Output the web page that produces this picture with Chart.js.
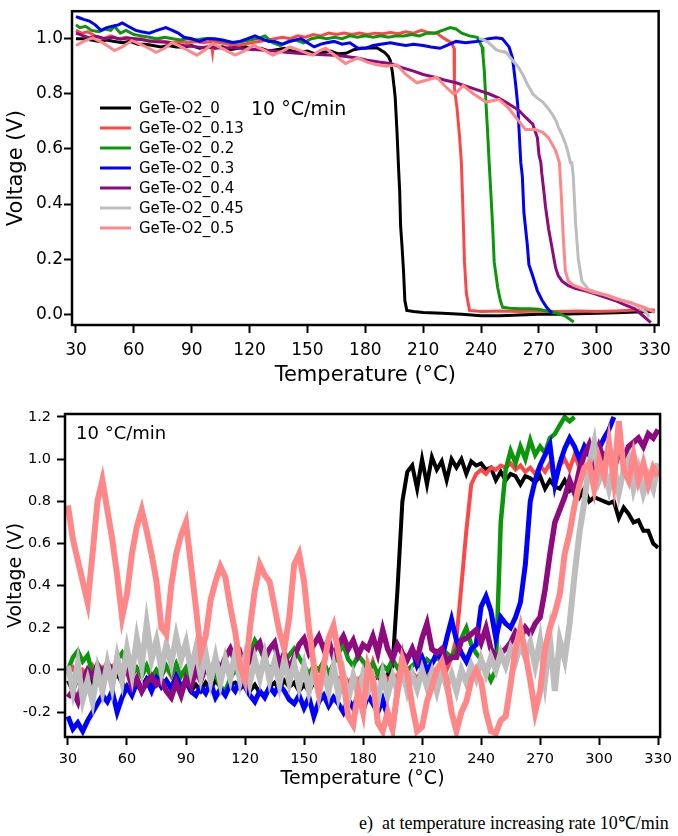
<!DOCTYPE html>
<html><head><meta charset="utf-8">
<script src="https://cdn.jsdelivr.net/npm/chart.js@4/dist/chart.umd.min.js"></script>
<style>
html,body{margin:0;padding:0;background:#fff;}
body{width:678px;height:836px;position:relative;overflow:hidden;font-family:"DejaVu Sans",sans-serif;}
canvas{position:absolute;left:0;}
#c1{top:0;}
#c2{top:390px;}
.lbl{position:absolute;white-space:pre;color:#000;font-family:"DejaVu Sans",sans-serif;z-index:5;}
#cap{position:absolute;left:359px;top:810px;font-family:"Liberation Serif","Times New Roman",serif;font-size:18px;white-space:pre;color:#000;}
</style></head>
<body>
<canvas id="c1" width="678" height="390"></canvas>
<canvas id="c2" width="678" height="410"></canvas>
<div class="lbl" style="left:251px;top:96px;font-size:19px;line-height:24px;">10 °C/min</div>
<div class="lbl" style="left:76px;top:422px;font-size:18px;line-height:22px;">10 °C/min</div>
<div id="cap">e)  at temperature increasing rate 10℃/min</div>
<script>
// ---------- series names & colours ----------
const seriesNames = ["GeTe-O2_0","GeTe-O2_0.13","GeTe-O2_0.2","GeTe-O2_0.3","GeTe-O2_0.4","GeTe-O2_0.45","GeTe-O2_0.5"];
const seriesColors = ["#000000","#ff4646","#0a980a","#0000ff","#8e0a7e","#bdbdbd","#ff8787"];

// ---------- tick labels ----------
const xTicks = [30,60,90,120,150,180,210,240,270,300,330];
const yTicksTop = [0.0,0.2,0.4,0.6,0.8,1.0];
const yTicksBottom = [-0.2,0.0,0.2,0.4,0.6,0.8,1.0,1.2];

// ---------- top panel: [temperature (°C), voltage (V)] ----------
const top_0 = [[30,1.0],[34,1.0],[38,0.995],[42,0.99],[46,0.995],[50,0.99],[54,0.985],[58,0.99],[62,0.98],[66,0.98],[70,0.975],[74,0.97],[78,0.975],[82,0.97],[86,0.97],[90,0.975],[94,0.965],[98,0.97],[102,0.965],[106,0.97],[110,0.96],[114,0.965],[118,0.97],[122,0.96],[126,0.965],[130,0.955],[134,0.96],[138,0.965],[142,0.955],[146,0.95],[150,0.955],[154,0.945],[158,0.95],[162,0.955],[166,0.945],[170,0.947],[174,0.96],[178,0.965],[182,0.966],[186,0.967],[190,0.95],[192,0.935],[193,0.92],[194,0.88],[195,0.82],[195.5,0.785],[196.4,0.665],[197.3,0.52],[197.8,0.45],[198.3,0.32],[199,0.25],[199.8,0.157],[200.5,0.05],[201.5,0.014],[205,0.01],[210,0.006],[220,0.004],[230,0.0],[240,-0.005],[250,-0.005],[260,-0.003],[270,0.0],[280,0.0],[290,0.002],[300,0.004],[310,0.005],[320,0.008],[330,0.01]];
const top_013 = [[30,1.03],[33,1.02],[36,1.025],[40,1.01],[44,1.0],[48,1.01],[52,1.0],[56,1.005],[60,0.995],[64,1.0],[68,0.99],[72,0.995],[76,0.99],[80,0.985],[84,0.99],[88,0.985],[92,0.99],[96,0.985],[100,0.99],[100.8,0.95],[101.5,0.99],[105,0.985],[109,0.98],[113,0.975],[117,0.98],[121,0.985],[125,0.99],[129,0.995],[133,1.0],[137,1.005],[141,1.0],[145,1.01],[149,1.005],[153,1.015],[157,1.01],[161,1.02],[165,1.015],[169,1.02],[173,1.015],[177,1.02],[181,1.015],[185,1.02],[189,1.018],[193,1.022],[197,1.018],[201,1.025],[205,1.02],[209,1.03],[213,1.022],[217,1.02],[221,1.0],[224.7,0.985],[226,0.965],[226.2,0.82],[227.5,0.75],[228.8,0.65],[229.8,0.55],[230.6,0.38],[231.4,0.19],[232.4,0.075],[234,0.014],[240,0.01],[250,0.012],[260,0.01],[270,0.012],[280,0.01],[290,0.012],[300,0.01],[310,0.012],[320,0.015],[330,0.015]];
const top_02 = [[30,1.05],[32,1.04],[35,1.045],[38,1.03],[42,1.025],[45,1.035],[48,1.03],[50,1.045],[53,1.02],[56,1.03],[60,1.015],[64,1.01],[68,1.005],[72,1.0],[76,1.005],[80,1.0],[84,0.995],[88,1.0],[92,0.995],[96,1.0],[100,1.0],[104,0.995],[108,0.99],[112,0.985],[116,0.99],[120,0.995],[124,1.0],[128,1.01],[132,0.985],[136,0.975],[140,0.99],[144,0.995],[148,0.985],[152,1.0],[156,1.005],[160,1.0],[164,1.005],[168,1.0],[172,1.01],[176,1.005],[180,1.01],[184,1.005],[188,1.01],[192,1.005],[196,1.01],[200,1.01],[204,1.015],[208,1.01],[212,1.02],[216,1.02],[220,1.03],[224,1.04],[227,1.035],[230,1.02],[234,1.01],[238,1.005],[240.5,0.97],[241,0.94],[241.7,0.88],[242.6,0.76],[243.4,0.66],[244.2,0.55],[245,0.45],[246,0.32],[246.8,0.19],[247.8,0.14],[248.6,0.097],[250,0.05],[251.2,0.025],[255,0.022],[260,0.02],[265,0.02],[270,0.018],[275,0.01],[280,0.003],[284,-0.008],[288,-0.028]];
const top_03 = [[30,1.08],[32,1.075],[34,1.07],[37,1.064],[40,1.05],[43,1.03],[46,1.04],[49,1.045],[52,1.05],[54,1.057],[57,1.045],[61,1.03],[64,1.025],[68,1.02],[72,1.03],[76.6,1.04],[80,1.03],[83,1.02],[86,1.005],[90,1.0],[94,0.99],[98,1.0],[102,1.0],[106,0.995],[111,0.986],[115,0.99],[119,1.0],[122.8,1.01],[126,1.0],[130,0.99],[133,0.99],[137,0.98],[141,0.99],[146.7,1.0],[150,0.985],[153.5,0.97],[157,0.98],[160,0.985],[163.8,0.99],[168,0.98],[172,0.985],[176,0.966],[180,0.965],[184,0.975],[188,0.98],[193,0.985],[197,0.98],[201,0.975],[205,0.98],[210,0.975],[214,0.97],[218.7,0.965],[222,0.975],[227,0.99],[232,0.985],[237.5,0.99],[241,0.995],[244,1.0],[247.8,1.003],[251,1.0],[254.5,0.97],[256.3,0.93],[257,0.89],[258,0.83],[259,0.76],[259.8,0.655],[260.6,0.55],[261.4,0.5],[262.2,0.37],[264,0.25],[264.8,0.18],[266.5,0.145],[269.2,0.085],[271.7,0.05],[274,0.025],[276.8,0.004]];
const top_04 = [[30,1.02],[34,1.01],[37,1.003],[41,1.008],[45,1.0],[49,1.005],[53,0.998],[57,1.002],[61,1.0],[65,0.995],[70,0.99],[74,0.988],[78,0.986],[82,0.98],[86,0.975],[90,0.972],[95.5,0.968],[100,0.97],[105,0.966],[112.6,0.968],[118,0.962],[124,0.96],[129.7,0.957],[135,0.953],[140,0.95],[146.8,0.946],[152,0.944],[158,0.942],[164,0.94],[170,0.935],[175.8,0.93],[181,0.922],[187,0.915],[193,0.91],[199,0.895],[205,0.882],[210,0.87],[216,0.86],[221,0.85],[227,0.84],[233,0.826],[238,0.814],[244,0.8],[249,0.785],[254,0.765],[259.6,0.74],[263,0.715],[266.8,0.69],[269.2,0.64],[270,0.58],[271,0.55],[271.5,0.51],[272.5,0.45],[273.4,0.39],[275,0.31],[276.8,0.24],[278.6,0.17],[280,0.14],[282,0.12],[285,0.105],[289,0.093],[294,0.085],[299,0.074],[304,0.062],[309.4,0.05],[314,0.036],[319.7,0.02],[323,0.0],[326.4,-0.02],[328,-0.03]];
const top_045 = [[239,1.0],[241,0.997],[244,0.985],[247.8,0.96],[250,0.955],[253,0.95],[256.5,0.92],[259,0.9],[261.6,0.87],[264,0.835],[266.8,0.8],[269,0.785],[272,0.77],[275,0.745],[277,0.725],[279,0.7],[280,0.68],[282,0.65],[283.7,0.62],[285,0.59],[286.3,0.55],[287,0.55],[287.8,0.5],[289,0.33],[290.4,0.2],[292.3,0.12],[295.7,0.09],[300,0.08],[304,0.07],[310,0.055],[318,0.043],[322,0.025],[326,0.004],[327,-0.01]];
const top_05 = [[30,0.975],[34,0.99],[38.7,1.003],[44,0.985],[50,0.957],[54,0.97],[59,0.993],[65,0.975],[71.6,0.95],[76,0.965],[80,0.986],[86,0.965],[92.7,0.94],[97,0.96],[101,0.982],[107,0.96],[112.6,0.94],[117,0.955],[122,0.975],[127,0.96],[132,0.94],[137,0.955],[141,0.97],[147,0.955],[152.8,0.94],[156,0.955],[159.4,0.965],[165,0.935],[169.7,0.91],[173,0.92],[176,0.93],[181,0.915],[186,0.905],[191,0.9],[196.4,0.905],[201,0.87],[206.7,0.84],[212,0.85],[217,0.86],[221,0.83],[225.7,0.8],[228,0.81],[230.8,0.83],[236,0.8],[242.6,0.77],[246,0.775],[249.3,0.78],[254,0.75],[258,0.715],[263,0.67],[268,0.67],[272,0.66],[275,0.64],[278.6,0.595],[280.6,0.55],[281.6,0.43],[282.7,0.27],[283.7,0.157],[285.3,0.12],[288,0.105],[292.2,0.094],[298,0.08],[305.8,0.068],[313,0.05],[318,0.04],[324.7,0.025],[330,0.007]];

// ---------- bottom panel: sampled temperatures (°C) ----------
const tBottom = [
 30,32.5,35,37.5,40,42.5,45,47.5,50,52.5,
 55,57.5,60,62.5,65,67.5,70,72.5,75,77.5,
 80,82.5,85,87.5,90,92.5,95,97.5,100,102.5,
 105,107.5,110,112.5,115,117.5,120,122.5,125,127.5,
 130,132.5,135,137.5,140,142.5,145,147.5,150,152.5,
 155,157.5,160,162.5,165,167.5,170,172.5,175,177.5,
 180,182.5,185,187.5,190,192.5,195,197.5,200,202.5,
 205,207.5,210,212.5,215,217.5,220,222.5,225,227.5,
 230,232.5,235,237.5,240,242.5,245,247.5,250,252.5,
 255,257.5,260,262.5,265,267.5,270,272.5,275,277.5,
 280,282.5,285,287.5,290,292.5,295,297.5,300,302.5,
 305,307.5,310,312.5,315,317.5,320,322.5,325,327.5,
 330];

// ---------- bottom panel voltages (V) ----------
const bot_0 = [
 -0.05,-0.1,-0.04,-0.08,-0.03,-0.07,-0.02,-0.04,0.0,-0.05,
 -0.02,-0.06,-0.09,-0.11,-0.06,-0.08,-0.04,-0.07,-0.03,-0.06,
 -0.05,-0.08,-0.03,-0.09,-0.06,-0.1,-0.07,-0.1,-0.06,-0.09,
 -0.05,-0.08,-0.1,-0.07,-0.06,-0.09,-0.06,-0.1,-0.07,-0.11,
 -0.12,-0.08,-0.06,-0.09,-0.05,-0.08,-0.06,-0.1,-0.07,-0.1,
 -0.06,-0.09,-0.05,-0.08,-0.04,-0.07,-0.03,-0.1,-0.05,-0.08,
 -0.04,-0.09,-0.05,-0.03,-0.06,-0.02,0.02,0.38,0.8,0.94,
 0.97,0.86,1.0,0.88,1.01,0.95,0.99,0.9,1.0,0.96,
 1.0,0.93,0.99,0.97,0.98,0.95,0.96,0.9,0.94,0.9,
 0.93,0.92,0.88,0.92,0.91,0.89,0.92,0.86,0.9,0.87,
 0.86,0.9,0.85,0.87,0.82,0.86,0.8,0.82,0.81,0.8,
 0.79,0.8,0.72,0.77,0.74,0.7,0.71,0.66,0.66,0.6,
 0.58];
const bot_013 = [
 -0.02,0.01,-0.04,0.0,-0.03,0.02,-0.02,0.01,-0.03,0.02,
 0.03,-0.01,0.02,-0.03,0.01,-0.02,0.02,-0.03,0.0,-0.02,
 0.01,-0.03,0.02,-0.02,0.01,-0.03,0.02,-0.02,0.0,-0.03,
 0.02,-0.02,0.01,-0.03,0.02,-0.02,0.03,-0.01,0.02,-0.02,
 0.02,-0.02,0.01,-0.03,0.02,-0.02,0.01,-0.03,0.0,-0.04,
 -0.02,-0.05,-0.02,-0.04,0.0,-0.05,-0.02,-0.06,-0.03,-0.05,
 -0.02,-0.04,0.04,-0.03,-0.01,-0.05,-0.02,-0.04,0.08,-0.03,
 -0.01,-0.04,0.0,-0.03,0.01,-0.02,0.02,0.0,0.06,0.15,
 0.4,0.66,0.88,0.93,0.95,0.93,0.96,0.95,0.97,0.96,
 0.98,0.95,0.97,0.94,0.96,0.93,0.97,0.94,0.98,0.9,
 0.97,1.0,0.95,1.02,0.96,null,null,null,null,null,
 null,null,null,null,null,null,null,null,null,null,
 null];
const bot_02 = [
 0.0,0.06,0.09,0.04,0.07,-0.02,0.03,-0.01,0.02,-0.03,
 0.05,0.08,0.02,-0.02,0.01,-0.03,0.02,-0.04,0.0,-0.03,
 0.02,-0.02,0.03,-0.03,0.01,-0.04,0.02,-0.03,0.03,-0.05,
 -0.02,-0.08,-0.1,-0.04,0.0,-0.03,0.02,0.08,0.14,0.1,
 0.05,0.0,0.03,-0.02,0.04,0.07,0.1,0.06,0.02,-0.02,
 0.02,0.0,0.04,-0.02,0.03,0.08,0.12,0.05,0.02,0.07,
 0.04,0.0,0.03,-0.02,0.02,0.0,0.05,0.01,0.03,0.0,
 0.02,0.04,0.01,0.05,0.03,0.06,0.04,0.08,0.06,0.1,
 0.15,0.2,0.12,0.08,0.05,0.0,-0.05,0.0,0.7,0.95,
 1.04,0.98,1.06,1.0,1.09,1.02,1.06,1.03,1.1,1.12,
 1.16,1.2,1.18,1.2,null,null,null,null,null,null,
 null,null,null,null,null,null,null,null,null,null,
 null];
const bot_03 = [
 -0.22,-0.28,-0.25,-0.29,-0.24,-0.2,-0.16,-0.12,-0.15,-0.1,
 -0.2,-0.13,-0.08,-0.12,-0.06,-0.1,-0.05,-0.1,-0.04,-0.08,
 -0.05,-0.09,-0.03,-0.08,-0.05,-0.1,-0.12,-0.08,-0.11,-0.06,
 -0.13,-0.09,-0.12,-0.07,-0.1,-0.05,-0.08,-0.12,-0.15,-0.1,
 -0.13,-0.08,-0.11,-0.07,-0.1,-0.14,-0.16,-0.12,-0.18,-0.13,
 -0.22,-0.15,-0.12,-0.17,-0.13,-0.16,-0.2,-0.14,-0.18,-0.12,
 -0.19,-0.12,-0.16,-0.2,-0.14,-0.22,-0.28,-0.1,0.0,0.05,
 0.1,0.02,0.06,0.0,0.03,0.08,0.05,0.15,0.24,0.14,
 0.08,0.04,0.1,0.12,0.3,0.35,0.28,0.15,0.25,0.22,
 0.2,0.25,0.32,0.5,0.8,0.9,0.97,1.02,1.07,0.88,
 0.98,1.05,1.1,1.06,1.0,1.06,1.02,1.08,1.05,1.1,
 1.14,1.2,null,null,null,null,null,null,null,null,
 null];
const bot_04 = [
 -0.13,-0.1,-0.15,-0.05,0.0,-0.03,0.02,-0.02,0.03,0.0,
 0.02,-0.03,0.01,-0.08,-0.04,-0.1,-0.06,-0.03,-0.07,-0.05,
 -0.1,-0.13,-0.06,-0.12,-0.04,-0.08,0.0,-0.05,0.02,-0.03,
 0.05,0.0,0.06,0.1,0.04,0.08,0.0,0.05,0.1,0.13,
 0.05,0.1,0.13,0.02,0.08,0.0,0.06,0.12,0.15,0.08,
 0.12,0.16,0.1,0.14,0.06,0.12,0.16,0.1,0.14,0.07,
 0.12,0.1,0.16,0.08,0.19,0.1,0.05,0.12,0.08,0.05,
 0.1,0.05,0.15,0.22,0.1,0.08,0.1,0.04,0.06,0.06,
 0.14,0.15,0.17,0.19,0.13,0.2,0.1,0.06,0.08,0.1,
 0.13,0.18,0.15,0.2,0.17,0.22,0.25,0.38,0.55,0.7,
 0.76,0.82,0.9,0.84,0.95,1.02,1.07,0.98,1.06,1.0,
 1.05,0.95,1.03,1.0,1.06,1.08,1.1,1.06,1.12,1.1,
 1.14];
const bot_045 = [
 0.02,-0.1,0.03,-0.14,-0.05,-0.15,0.0,-0.1,0.03,-0.08,
 0.06,-0.05,0.1,-0.02,0.15,0.02,0.22,0.05,0.14,0.0,
 0.12,0.03,0.16,0.05,0.13,0.0,0.1,-0.03,0.08,-0.05,
 0.06,-0.06,0.05,-0.04,0.08,-0.05,0.06,-0.06,0.05,-0.04,
 0.07,-0.05,0.04,-0.07,0.05,-0.06,0.03,-0.08,0.02,-0.1,
 0.0,-0.12,0.0,-0.1,0.02,-0.12,-0.02,-0.14,-0.03,-0.12,
 -0.02,-0.1,-0.04,-0.15,-0.02,-0.12,-0.03,-0.1,0.0,-0.1,
 -0.02,-0.09,0.0,-0.08,-0.01,-0.1,0.0,-0.08,-0.02,-0.1,
 0.0,-0.06,0.02,-0.04,0.05,-0.02,0.06,0.0,0.08,0.02,
 0.1,0.04,0.12,0.06,0.13,0.02,0.14,-0.05,0.15,-0.1,
 0.14,0.05,0.22,0.45,0.65,0.8,0.98,1.08,0.9,0.96,
 0.86,0.97,0.84,0.95,1.0,0.86,0.95,0.84,0.92,0.86,
 0.98];
const bot_05 = [
 0.78,0.62,0.52,0.42,0.32,0.55,0.8,0.9,0.76,0.62,
 0.45,0.25,0.36,0.55,0.68,0.76,0.66,0.55,0.42,0.2,
 0.17,0.4,0.55,0.64,0.7,0.5,0.3,0.08,0.16,0.33,
 0.42,0.49,0.44,0.3,0.18,0.02,-0.05,0.2,0.38,0.5,
 0.45,0.42,0.3,0.18,0.1,0.25,0.5,0.55,0.42,0.2,
 0.02,-0.1,0.02,0.15,0.21,0.08,-0.05,-0.22,-0.26,-0.1,
 -0.2,0.02,-0.05,-0.25,-0.29,-0.2,-0.28,-0.1,0.05,-0.02,
 -0.17,-0.29,-0.27,-0.15,-0.08,0.0,0.04,-0.05,-0.2,-0.29,
 -0.2,-0.15,-0.05,0.0,-0.05,-0.2,-0.29,-0.3,-0.24,-0.22,
 -0.07,0.1,0.2,0.08,-0.05,-0.2,-0.1,0.1,0.2,0.27,
 0.36,0.55,0.65,0.78,0.88,0.96,0.98,0.86,1.0,0.92,
 1.08,0.9,1.18,0.95,0.9,1.02,0.9,0.98,0.88,0.96,
 0.92];

// ---------- build ----------
const topSeries = [top_0, top_013, top_02, top_03, top_04, top_045, top_05];
const botSeries = [bot_0, bot_013, bot_02, bot_03, bot_04, bot_045, bot_05];
const botWidths = [4, 4, 4.5, 5, 5.5, 6, 6];

const framePlugin = {
  id: 'frame',
  afterDatasetsDraw(chart) {
    const {ctx, chartArea: a} = chart;
    ctx.save();
    ctx.strokeStyle = '#000';
    ctx.lineWidth = 2.5;
    ctx.strokeRect(a.left, a.top, a.right - a.left, a.bottom - a.top);
    ctx.restore();
  }
};

const legendPlugin = {
  id: 'inlegend',
  afterDraw(chart) {
    const ctx = chart.ctx;
    ctx.save();
    ctx.font = '15px "DejaVu Sans"';
    ctx.textBaseline = 'middle';
    chart.data.datasets.forEach((ds, i) => {
      const y = 108 + 20 * i;
      ctx.strokeStyle = ds.borderColor;
      ctx.lineWidth = 3;
      ctx.beginPath(); ctx.moveTo(100, y); ctx.lineTo(131, y); ctx.stroke();
      ctx.fillStyle = '#000';
      ctx.fillText(ds.label, 139, y + 1);
    });
    ctx.restore();
  }
};

function axisCfg(o) {
  return {
    type: 'linear', min: o.min, max: o.max,
    afterBuildTicks: s => { s.ticks = o.ticks.map(v => ({value: v})); },
    afterFit: s => { if (o.width) s.width = o.width; if (o.height) s.height = o.height; },
    ticks: { color: '#000', font: {family: 'DejaVu Sans', size: o.fs}, padding: o.pad, maxRotation: 0, autoSkip: false,
      callback: o.fmt },
    grid: { drawOnChartArea: false, drawTicks: true, tickLength: 8, tickWidth: 2, tickColor: '#000' },
    border: { display: false },
    title: { display: true, text: o.title, color: '#000', font: {family: 'DejaVu Sans', size: o.tfs}, padding: o.tpad }
  };
}

function makeChart(id, datasets, o) {
  return new Chart(document.getElementById(id), {
    type: 'line',
    data: { datasets },
    options: {
      responsive: false, animation: false, devicePixelRatio: 1, events: [],
      layout: { padding: o.padding },
      plugins: { legend: {display: false}, tooltip: {enabled: false} },
      elements: { point: {radius: 0}, line: {tension: 0} },
      scales: { x: axisCfg(o.x), y: axisCfg(o.y) }
    },
    plugins: o.plugins
  });
}

// later series are drawn on top (Chart.js draws lowest "order" last)
const topDatasets = topSeries.map((s, i) => ({
  label: seriesNames[i], borderColor: seriesColors[i], borderWidth: 3, order: 6 - i,
  data: s.map(([x, y]) => ({x, y})), clip: 0, fill: false, pointRadius: 0
}));
const botDatasets = botSeries.map((s, i) => ({
  label: seriesNames[i], borderColor: seriesColors[i], borderWidth: botWidths[i], order: 6 - i,
  data: tBottom.map((t, k) => ({x: t, y: s[k]})), clip: 0, fill: false, pointRadius: 0, spanGaps: false
}));

makeChart('c1', topDatasets, {
  padding: {left: 0, right: 14, top: 5, bottom: 0},
  x: {min: 27.95, max: 332.05, ticks: xTicks, height: 65, fs: 17, pad: 7, fmt: v => String(v),
      title: 'Temperature (°C)', tfs: 21, tpad: {top: 0, bottom: 2}},
  y: {min: -0.039, max: 1.0996, ticks: yTicksTop, width: 72, fs: 17, pad: 1, fmt: v => v.toFixed(1),
      title: 'Voltage (V)', tfs: 21, tpad: {top: 4, bottom: 0}},
  plugins: [framePlugin, legendPlugin]
});

makeChart('c2', botDatasets, {
  padding: {left: 0, right: 13, top: 24, bottom: 0},
  x: {min: 28.49, max: 331.01, ticks: xTicks, height: 63, fs: 14.5, pad: 6, fmt: v => String(v),
      title: 'Temperature (°C)', tfs: 19, tpad: {top: 0, bottom: 10}},
  y: {min: -0.3178, max: 1.2142, ticks: yTicksBottom, width: 65, fs: 14.5, pad: 6, fmt: v => v.toFixed(1),
      title: 'Voltage (V)', tfs: 19, tpad: {top: 5, bottom: 0}},
  plugins: [framePlugin]
});
</script>
</body></html>
